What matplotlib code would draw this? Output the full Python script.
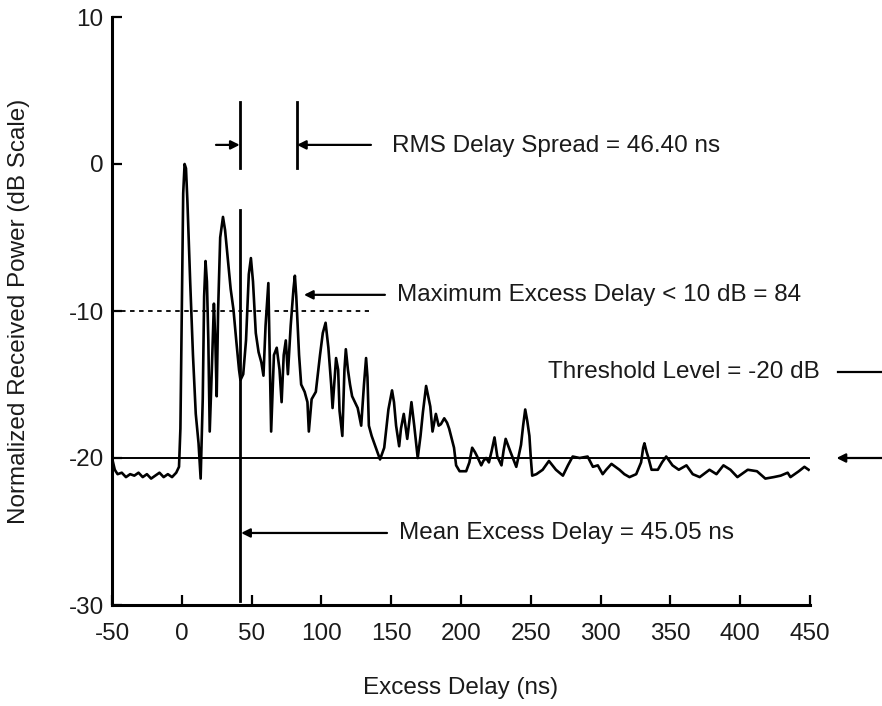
import matplotlib
matplotlib.use("Agg")
import matplotlib.pyplot as plt

plt.rcParams['font.family'] = ['Liberation Sans', 'DejaVu Sans']
plt.rcParams['axes.unicode_minus'] = False

# power delay profile
delay_ns = [-50, -48, -46, -43, -40, -37, -34, -31, -28, -25, -22, -19, -16, -13, -10, -7, -4, -2, -1,
            0, 1, 2, 3, 4, 6, 8, 10, 12, 13.5, 15, 16, 17, 18, 19, 20, 21.5, 23, 24, 25, 26, 27.5,
            29.5, 31, 33, 35, 37, 39, 41, 42, 44, 46, 48, 49.5, 51, 53, 55, 57, 58.5, 60, 62, 64,
            66, 68, 70, 71.5, 73, 74.5, 76, 78, 80, 81, 82, 84, 85.5, 88, 90, 91, 93, 96, 99, 101,
            103, 105, 107, 108, 110.5, 112, 113, 115, 116.5, 117.5, 119, 120.5, 122, 124, 126,
            128.5, 130.5, 132, 133, 134, 136, 139, 142, 145, 148, 150.6, 152, 153.5, 155.7, 157,
            159, 161.5, 163, 164.5, 166.5, 169, 171, 172.7, 175, 176.5, 178, 179.6, 182, 184,
            185.6, 188, 190, 191.5, 195, 196.5, 199, 203.7, 206, 208, 210, 211.6, 214.5, 216, 218,
            220, 222, 224, 226, 229, 230.5, 232, 235.5, 238, 239.6, 241, 243, 244.5, 246, 247.5,
            249, 250, 251, 254, 258.5, 263, 268, 273, 276.6, 280, 285, 290.7, 294.5, 298, 301.5,
            304, 307.8, 313.5, 317, 320.7, 325.5, 329, 330.5, 331.4, 333, 334, 336.5, 341, 344,
            347, 351.5, 356, 361.5, 366, 371, 378, 383, 388, 393, 398, 405.4, 412, 418, 424, 429,
            434, 436, 442, 446, 449]
power_db = [-20.0, -20.8, -21.1, -21.0, -21.3, -21.1, -21.2, -21.0, -21.3, -21.1, -21.4, -21.2, -21.0,
            -21.3, -21.1, -21.3, -21.0, -20.6, -18.0,
            -10.0, -2.0, 0.0, -0.3, -2.5, -8.0, -13.0, -17.0, -19.0, -21.4, -16.0, -9.0, -6.6, -8.0,
            -12.0, -18.2, -14.0, -9.5, -12.0, -15.8, -10.0, -5.0,
            -3.6, -4.5, -6.5, -8.5, -9.9, -12.0, -14.0, -14.7, -14.3, -12.0, -7.5, -6.4, -8.0, -11.5,
            -12.8, -13.5, -14.4, -11.0, -8.1, -18.2,
            -13.0, -12.5, -14.0, -16.2, -13.0, -12.0, -14.3, -11.0, -8.5, -7.6, -9.0, -13.0, -15.0,
            -15.5, -16.2, -18.2, -16.0, -15.5, -13.0, -11.5,
            -10.8, -12.5, -15.0, -16.6, -13.2, -14.0, -16.8, -18.5, -14.0, -12.6, -14.0, -15.0,
            -15.8, -16.2, -16.6,
            -17.8, -15.0, -13.2, -14.5, -17.8, -18.5, -19.3, -20.1, -19.3, -16.7, -15.4, -16.2,
            -17.8, -19.2, -18.0,
            -17.0, -18.7, -17.5, -16.2, -17.8, -20.0, -18.5, -16.9, -15.1, -15.8, -16.5, -18.2,
            -17.0, -17.8,
            -17.7, -17.3, -17.6, -18.0, -19.3, -20.5, -20.9, -20.9, -20.3, -19.3, -19.6, -19.9,
            -20.5, -20.2, -20.0,
            -20.3, -19.5, -18.6, -19.9, -20.5, -19.5, -18.7, -19.6, -20.2, -20.6, -20.0, -19.1,
            -17.8, -16.7, -17.5,
            -18.5, -20.0, -21.2, -21.1, -20.8, -20.2, -20.8, -21.2, -20.5, -19.9, -20.0, -19.9,
            -20.6, -20.5, -21.1,
            -20.8, -20.4, -20.8, -21.1, -21.3, -21.1, -20.3, -19.3, -19.0, -19.6, -19.9, -20.8,
            -20.8, -20.3,
            -19.9, -20.5, -20.8, -20.5, -21.1, -21.3, -20.8, -21.1, -20.5, -20.8, -21.3, -20.8,
            -20.9, -21.4, -21.3, -21.2,
            -21.0, -21.3, -20.9, -20.6, -20.8]

threshold_db = -20
ten_db_level = -10
ten_db_end = 134
mean_line_ns = 41.5
rms_right_ns = 82.5

labels = {
    'rms': "RMS Delay Spread = 46.40 ns",
    'max': "Maximum Excess Delay < 10 dB = 84",
    'thr': "Threshold Level = -20 dB",
    'mean': "Mean Excess Delay = 45.05 ns",
}

fig = plt.figure(figsize=(8.82, 7.06), dpi=100)
ax = fig.add_axes([112 / 882, 1 - 605 / 706, 698 / 882, 588 / 706])

ax.plot(delay_ns, power_db, color='k', lw=1.9, solid_joinstyle='round')

# threshold and the 10 dB dotted line
ax.axhline(threshold_db, color='k', lw=1.4)
ax.plot([-50, ten_db_end], [ten_db_level, ten_db_level], color='k', lw=1.3, ls=(0, (2.5, 2.5)))

# mean excess delay line and rms spread markers
ax.plot([mean_line_ns, mean_line_ns], [-3.1, -29.7], color='k', lw=2)
ax.plot([mean_line_ns, mean_line_ns], [4.2, -0.3], color='k', lw=2)
ax.plot([rms_right_ns, rms_right_ns], [4.2, -0.3], color='k', lw=2)

arr = dict(arrowstyle='-|>', color='k', lw=1.6, mutation_scale=13, shrinkA=0, shrinkB=0)
ax.annotate('', xy=(mean_line_ns, 1.3), xytext=(24.5, 1.3), arrowprops=arr)
ax.annotate('', xy=(rms_right_ns, 1.3), xytext=(135.5, 1.3), arrowprops=arr)
ax.annotate('', xy=(87.5, -8.9), xytext=(145.5, -8.9), arrowprops=arr)
ax.annotate('', xy=(mean_line_ns + 1, -25.1), xytext=(147, -25.1), arrowprops=arr)
ax.annotate('', xy=(469, threshold_db), xytext=(502, threshold_db), arrowprops=arr,
            annotation_clip=False)
ax.plot([470, 502], [-14.15, -14.15], color='k', lw=1.6, clip_on=False)

fs = 17.5
tc = '#1a1a1a'
ax.text(150.5, 1.2, labels['rms'], fontsize=fs, color=tc, va='center', ha='left')
ax.text(154, -8.9, labels['max'], fontsize=fs, color=tc, va='center', ha='left')
ax.text(262, -14.15, labels['thr'], fontsize=fs, color=tc, va='center', ha='left')
ax.text(155.6, -25.1, labels['mean'], fontsize=fs, color=tc, va='center', ha='left')

ax.set_xlim(-50, 450)
ax.set_ylim(-30, 10)
ax.set_xticks(range(-50, 451, 50))
ax.set_yticks([-30, -20, -10, 0, 10])

for s in ['top', 'right']:
    ax.spines[s].set_visible(False)
for s in ['left', 'bottom']:
    ax.spines[s].set_linewidth(2.2)

ax.tick_params(direction='in', length=7, width=1.6, labelsize=fs, colors='k', labelcolor=tc)
ax.tick_params(axis='x', pad=13)
ax.tick_params(axis='y', pad=6)

ax.set_xlabel("Excess Delay (ns)", fontsize=fs, color=tc)
ax.set_ylabel("Normalized Received Power (dB Scale)", fontsize=fs, color=tc)
ax.xaxis.set_label_coords(0.5, -0.122)
ax.yaxis.set_label_coords(-0.117, 0.5)

fig.savefig("out.png", dpi=100)
